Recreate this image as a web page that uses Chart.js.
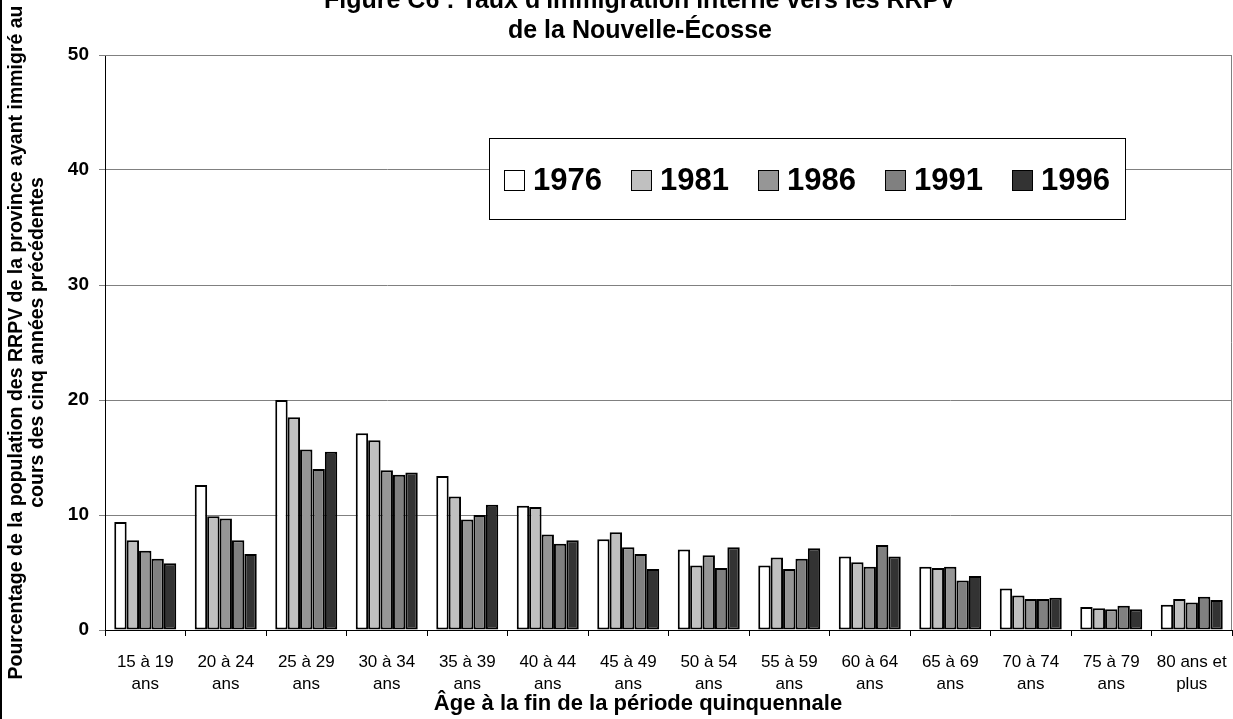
<!DOCTYPE html>
<html lang="fr">
<head>
<meta charset="utf-8">
<title>Figure C6</title>
<script src="https://cdn.jsdelivr.net/npm/chart.js@4.4.1/dist/chart.umd.min.js"></script>
<style>
  html, body { margin: 0; padding: 0; background: #fff; }
  #wrap { position: relative; width: 1233px; height: 719px; }
</style>
</head>
<body>
<div id="wrap"><canvas id="chart" width="1233" height="719"></canvas></div>
<script>
// -------- données --------
const ageGroups = [
  ["15 à 19", "ans"], ["20 à 24", "ans"], ["25 à 29", "ans"], ["30 à 34", "ans"],
  ["35 à 39", "ans"], ["40 à 44", "ans"], ["45 à 49", "ans"], ["50 à 54", "ans"],
  ["55 à 59", "ans"], ["60 à 64", "ans"], ["65 à 69", "ans"], ["70 à 74", "ans"],
  ["75 à 79", "ans"], ["80 ans et", "plus"]
];
const years = ["1976", "1981", "1986", "1991", "1996"];
const v1976 = [9.4, 12.6, 20.0, 17.1, 13.4, 10.8, 7.9, 7.0, 5.6, 6.4, 5.5, 3.6, 2.0, 2.2];
const v1981 = [7.8, 9.9, 18.5, 16.5, 11.6, 10.7, 8.5, 5.6, 6.3, 5.9, 5.4, 3.0, 1.9, 2.7];
const v1986 = [6.9, 9.7, 15.7, 13.9, 9.6, 8.3, 7.2, 6.5, 5.3, 5.5, 5.5, 2.7, 1.8, 2.4];
const v1991 = [6.2, 7.8, 14.0, 13.5, 10.0, 7.5, 6.6, 5.4, 6.2, 7.4, 4.3, 2.7, 2.1, 2.9];
const v1996 = [5.8, 6.6, 15.5, 13.7, 10.9, 7.8, 5.3, 7.2, 7.1, 6.4, 4.7, 2.8, 1.8, 2.6];
const yTicks = [0, 10, 20, 30, 40, 50];

const colors = ["#ffffff", "#c0c0c0", "#969696", "#808080", "#333333"];
const FONT = "'Liberation Sans', Arial, sans-serif";

// -------- plugins --------
const titlePlugin = {
  id: "figTitle",
  afterDraw(chart) {
    const { ctx } = chart;
    ctx.save();
    ctx.fillStyle = "#000";
    ctx.font = `bold 25px ${FONT}`;
    ctx.textAlign = "center";
    ctx.textBaseline = "alphabetic";
    ctx.fillText("Figure C6 : Taux d'immigration interne vers les RRPV", 640, 8);
    ctx.fillText("de la Nouvelle-Écosse", 640, 38);
    // titre de l'axe x (décalé à gauche comme dans l'original)
    ctx.font = `bold 22px ${FONT}`;
    ctx.textBaseline = "middle";
    ctx.fillText("Âge à la fin de la période quinquennale", 638, 704);
    // cadre gauche
    ctx.strokeStyle = "#000";
    ctx.lineWidth = 2;
    ctx.beginPath();
    ctx.moveTo(1, 0); ctx.lineTo(1, chart.height);
    ctx.stroke();
    ctx.restore();
  }
};

const frameAndLegend = {
  id: "frameLegend",
  beforeDatasetsDraw(chart) {
    const { ctx, chartArea: a } = chart;
    ctx.save();
    ctx.strokeStyle = "#808080";
    ctx.lineWidth = 1;
    ctx.beginPath();
    ctx.moveTo(a.left, a.top + 0.5); ctx.lineTo(a.right - 0.5, a.top + 0.5);
    ctx.lineTo(a.right - 0.5, a.bottom);
    ctx.stroke();
    ctx.restore();
  },
  afterDraw(chart) {
    const { ctx } = chart;
    const bx = 489, by = 138, bw = 636, bh = 81;
    ctx.save();
    ctx.fillStyle = "#fff";
    ctx.fillRect(bx, by, bw, bh);
    ctx.strokeStyle = "#000";
    ctx.lineWidth = 1;
    ctx.strokeRect(bx + 0.5, by + 0.5, bw, bh);
    ctx.font = `bold 31px ${FONT}`;
    ctx.textBaseline = "middle";
    ctx.textAlign = "left";
    chart.data.datasets.forEach((ds, i) => {
      const x = 504 + i * 127, cy = 180.5;
      ctx.fillStyle = ds.backgroundColor;
      ctx.fillRect(x, cy - 10.5, 21, 21);
      ctx.strokeStyle = "#000";
      ctx.lineWidth = 1;
      ctx.strokeRect(x + 0.5, cy - 10, 20, 20);
      ctx.fillStyle = "#000";
      ctx.fillText(ds.label, x + 29, cy + 1);
    });
    ctx.restore();
  }
};

// -------- graphique --------
const series = [v1976, v1981, v1986, v1991, v1996];
new Chart(document.getElementById("chart").getContext("2d"), {
  type: "bar",
  data: {
    labels: ageGroups,
    datasets: years.map((y, i) => ({
      label: y,
      data: series[i],
      backgroundColor: colors[i],
      borderColor: "#000",
      borderWidth: 2,
      borderSkipped: false,
      categoryPercentage: 0.77,
      barPercentage: 1.0
    }))
  },
  options: {
    responsive: false,
    animation: false,
    layout: { padding: { top: 55, right: 1, left: 0, bottom: 0 } },
    plugins: { legend: { display: false }, title: { display: false }, tooltip: { enabled: false } },
    scales: {
      x: {
        grid: { offset: true, drawOnChartArea: false, color: "#000", tickLength: 6 },
        border: { color: "#000", width: 1 },
        ticks: { color: "#000", font: { family: FONT, size: 17, lineHeight: 1.25 }, padding: 16, maxRotation: 0, autoSkip: false },
        afterFit(scale) {
          scale.height = 89;
          scale.paddingLeft = 0;
          scale.paddingRight = 0;
        }
      },
      y: {
        min: 0, max: 50,
        afterBuildTicks(scale) { scale.ticks = yTicks.map(v => ({ value: v })); },
        grid: { color: "#808080", tickLength: 6 },
        border: { color: "#000", width: 1 },
        ticks: { color: "#000", font: { family: FONT, size: 19, weight: "bold" }, padding: 10 },
        title: {
          display: true,
          text: ["Pourcentage de la population des RRPV de la province ayant immigré au",
                 "cours des cinq années précédentes"],
          color: "#000",
          font: { family: FONT, size: 19.5, weight: "bold", lineHeight: 1.03 },
          padding: { top: 7, bottom: 0 }
        },
        afterFit(scale) { scale.width = 105; }
      }
    }
  },
  plugins: [titlePlugin, frameAndLegend]
});
</script>
</body>
</html>
